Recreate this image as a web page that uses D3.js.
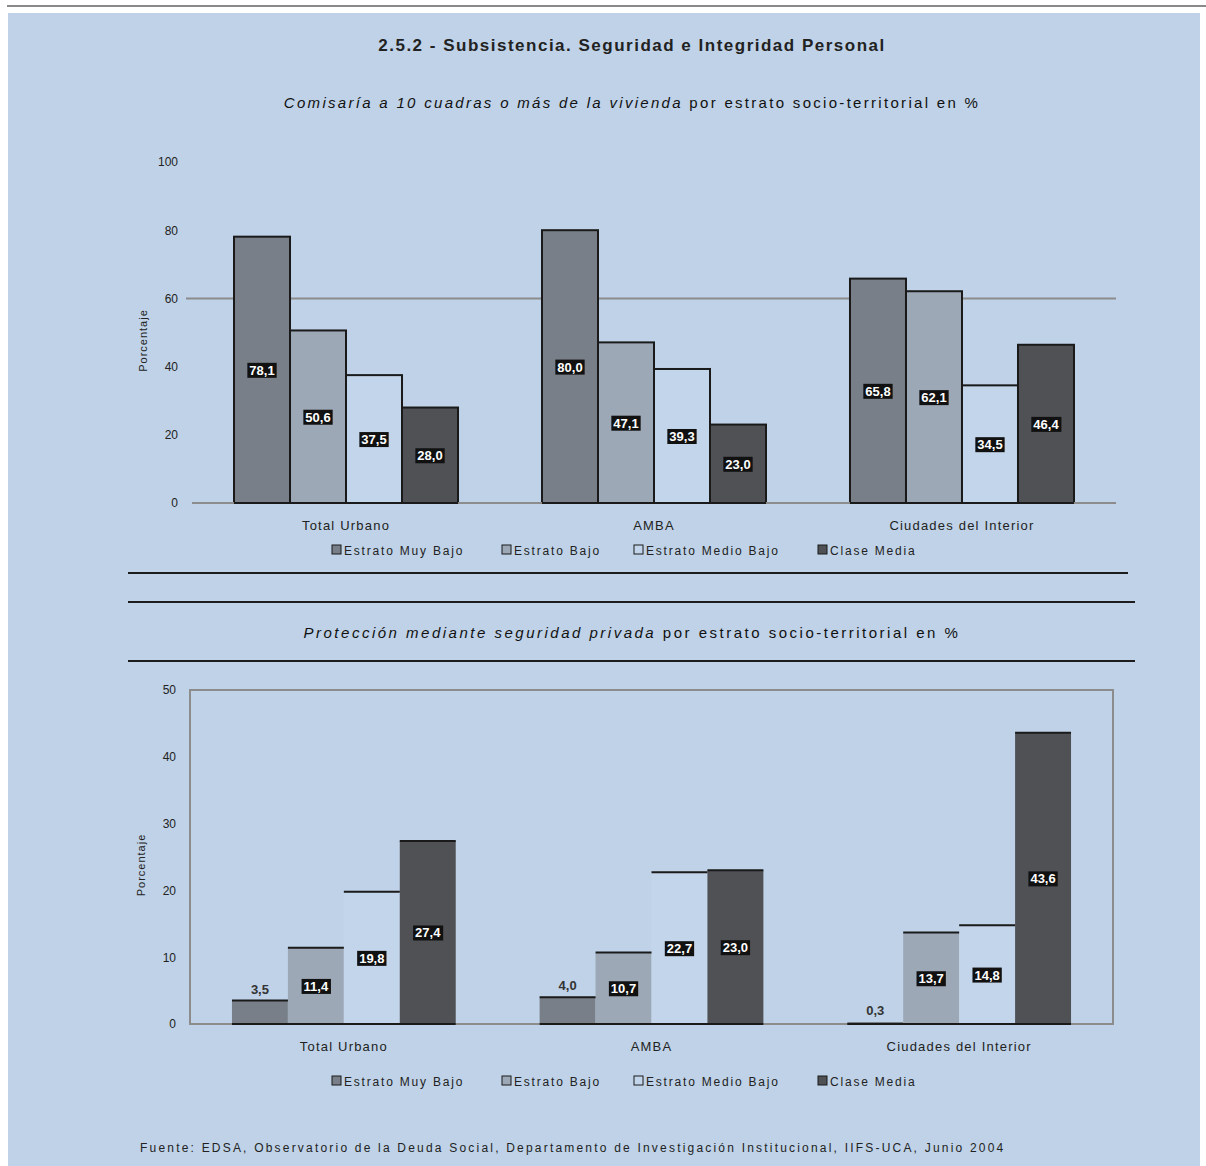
<!DOCTYPE html>
<html>
<head>
<meta charset="utf-8">
<script src="https://cdn.jsdelivr.net/npm/d3@7"></script>
<style>
  body { margin: 0; background: #fff; }
  svg { display: block; font-family: "Liberation Sans", Arial, sans-serif; }
</style>
</head>
<body>
<svg width="1206" height="1166"></svg>
<script>

// data
const categorias = ['Total Urbano', 'AMBA', 'Ciudades del Interior']
const estratos = ['Estrato Muy Bajo', 'Estrato Bajo', 'Estrato Medio Bajo', 'Clase Media']

// Comisaría a 10 cuadras o más (%)
const comisariaMuyBajo = [78.1, 80.0, 65.8]
const comisariaBajo = [50.6, 47.1, 62.1]
const comisariaMedioBajo = [37.5, 39.3, 34.5]
const comisariaMedia = [28.0, 23.0, 46.4]

// Protección mediante seguridad privada (%)
const seguridadMuyBajo = [3.5, 4.0, 0.3]
const seguridadBajo = [11.4, 10.7, 13.7]
const seguridadMedioBajo = [19.8, 22.7, 14.8]
const seguridadMedia = [27.4, 23.0, 43.6]

const ticksTop = [0, 20, 40, 60, 80, 100]
const ticksBottom = [0, 10, 20, 30, 40, 50]

const colores = ['#787f88', '#9da8b6', '#c3d5ea', '#4f5155']
const bg = '#bfd2e7'

let svg = d3.select('svg')

svg.append('rect').attr('x', 0).attr('y', 0).attr('width', 1206).attr('height', 1166).attr('fill', '#fff')
svg.append('line').attr('x1', 7).attr('x2', 1206).attr('y1', 6).attr('y2', 6)
  .attr('stroke', '#8a8a8a').attr('stroke-width', 2)
svg.append('rect').attr('x', 8).attr('y', 13).attr('width', 1192).attr('height', 1153).attr('fill', bg)

svg.append('text').attr('x', 632).attr('y', 51).attr('text-anchor', 'middle')
  .attr('font-size', 17).attr('font-weight', 'bold').attr('letter-spacing', 1.5).attr('fill', '#222')
  .text('2.5.2 - Subsistencia. Seguridad e Integridad Personal')

function subtitle(y, italic, rest, sp) {
  let t = svg.append('text').attr('x', 632).attr('y', y).attr('text-anchor', 'middle')
    .attr('font-size', 15).attr('letter-spacing', sp).attr('fill', '#111')
  t.append('tspan').attr('font-style', 'italic').text(italic)
  t.append('tspan').text(rest)
}
subtitle(108, 'Comisaría a 10 cuadras o más de la vivienda', '  por estrato socio-territorial en %', 2.3)
subtitle(638, 'Protección mediante seguridad privada', '  por estrato socio-territorial en %', 2.5)

// separator lines
;[[573, 128, 1128], [602, 128, 1135], [661, 128, 1135]].forEach(l => {
  svg.append('line').attr('x1', l[1]).attr('x2', l[2]).attr('y1', l[0]).attr('y2', l[0])
    .attr('stroke', '#1c1c1c').attr('stroke-width', 2)
})

function fmt(v) { return v.toFixed(1).replace('.', ',') }

function drawChart(cfg) {
  let series = cfg.series
  let x0 = d3.scaleBand().domain(categorias).range([cfg.left, cfg.right]).paddingInner(0.2727).paddingOuter(0.1364)
  let x1 = d3.scaleBand().domain(estratos).range([0, x0.bandwidth()])
  let y = d3.scaleLinear().domain([0, cfg.max]).range([cfg.bottom, cfg.top])

  let g = svg.append('g')

  if (cfg.frame) {
    g.append('rect').attr('x', cfg.left).attr('y', cfg.top)
      .attr('width', cfg.right - cfg.left).attr('height', cfg.bottom - cfg.top)
      .attr('fill', 'none').attr('stroke', '#8c8c8c').attr('stroke-width', 2)
  }

  cfg.grid.forEach(v => {
    g.append('line').attr('x1', cfg.left - 6).attr('x2', cfg.right).attr('y1', y(v)).attr('y2', y(v))
      .attr('stroke', '#8c8c8c').attr('stroke-width', 2)
  })

  let yAxis = g.append('g').attr('transform', `translate(${cfg.left - 14},0)`)
    .call(d3.axisLeft(y).tickValues(cfg.ticks).tickSize(0).tickPadding(0))
  yAxis.select('.domain').remove()
  yAxis.selectAll('text').attr('font-size', 12).attr('fill', '#222').attr('font-family', 'Liberation Sans, Arial')

  g.append('text').attr('transform', `translate(${cfg.left - 45},${(cfg.top + cfg.bottom) / 2 + 8}) rotate(-90)`)
    .attr('text-anchor', 'middle').attr('font-size', 11).attr('letter-spacing', 1).attr('fill', '#222').text('Porcentaje')

  let rows = []
  series.forEach((vals, si) => {
    vals.forEach((v, ci) => rows.push({ cat: categorias[ci], est: estratos[si], si: si, v: v }))
  })

  let bx = d => x0(d.cat) + x1(d.est)

  g.selectAll('rect.bar').data(rows).enter().append('rect')
    .attr('class', 'bar')
    .attr('x', bx).attr('y', d => y(d.v))
    .attr('width', x1.bandwidth()).attr('height', d => y(0) - y(d.v))
    .attr('fill', d => colores[d.si])
    .attr('stroke', cfg.outline ? '#1a1a1a' : 'none').attr('stroke-width', 2)

  if (!cfg.outline) {
    g.selectAll('line.topedge').data(rows.filter(d => d.v > 1)).enter().append('line')
      .attr('x1', bx).attr('x2', d => bx(d) + x1.bandwidth())
      .attr('y1', d => y(d.v)).attr('y2', d => y(d.v))
      .attr('stroke', '#1a1a1a').attr('stroke-width', 2)
  }

  // baseline
  g.append('line').attr('x1', cfg.left).attr('x2', cfg.right).attr('y1', y(0)).attr('y2', y(0))
    .attr('stroke', '#8c8c8c').attr('stroke-width', 2)
  g.selectAll('line.bbase').data(categorias).enter().append('line')
    .attr('x1', d => x0(d)).attr('x2', d => x0(d) + x0.bandwidth())
    .attr('y1', y(0)).attr('y2', y(0)).attr('stroke', '#1a1a1a').attr('stroke-width', 2)

  // data labels
  rows.forEach(d => {
    let cx = bx(d) + x1.bandwidth() / 2
    let small = d.v < 6
    let cy = small ? y(d.v) - 12 : (y(d.v) + y(0)) / 2
    let t = g.append('text').attr('x', cx).attr('y', cy + 5).attr('text-anchor', 'middle')
      .attr('font-size', 13).attr('font-weight', 'bold')
      .attr('fill', small ? '#333' : '#fff').text(fmt(d.v))
    if (!small) {
      let bb = t.node().getBBox()
      g.insert('rect', function () { return t.node() })
        .attr('x', bb.x - 2).attr('y', bb.y).attr('width', bb.width + 4).attr('height', bb.height)
        .attr('fill', '#111')
    }
  })

  // category labels
  g.selectAll('text.cat').data(categorias).enter().append('text')
    .attr('x', d => x0(d) + x0.bandwidth() / 2).attr('y', cfg.bottom + 27)
    .attr('text-anchor', 'middle').attr('font-size', 13).attr('letter-spacing', 1.2).attr('fill', '#222').text(d => d)

  // legend
  let lx = [332, 502, 634, 818]
  estratos.forEach((e, i) => {
    g.append('rect').attr('x', lx[i]).attr('y', cfg.legendY - 10).attr('width', 9).attr('height', 9)
      .attr('fill', colores[i]).attr('stroke', '#1a1a1a').attr('stroke-width', 1)
    g.append('text').attr('x', lx[i] + 12).attr('y', cfg.legendY)
      .attr('font-size', 12).attr('letter-spacing', 1.8).attr('fill', '#222').text(e)
  })
}

drawChart({
  series: [comisariaMuyBajo, comisariaBajo, comisariaMedioBajo, comisariaMedia],
  left: 192, right: 1116, top: 162, bottom: 503, max: 100,
  ticks: ticksTop, grid: [60], frame: false, outline: true, legendY: 555
})

drawChart({
  series: [seguridadMuyBajo, seguridadBajo, seguridadMedioBajo, seguridadMedia],
  left: 190, right: 1113, top: 690, bottom: 1024, max: 50,
  ticks: ticksBottom, grid: [], frame: true, outline: false, legendY: 1086
})

svg.append('text').attr('x', 140).attr('y', 1152).attr('font-size', 12).attr('letter-spacing', 2.2).attr('fill', '#222')
  .text('Fuente: EDSA, Observatorio de la Deuda Social, Departamento de Investigación Institucional, IIFS-UCA, Junio 2004')

</script>
</body>
</html>
